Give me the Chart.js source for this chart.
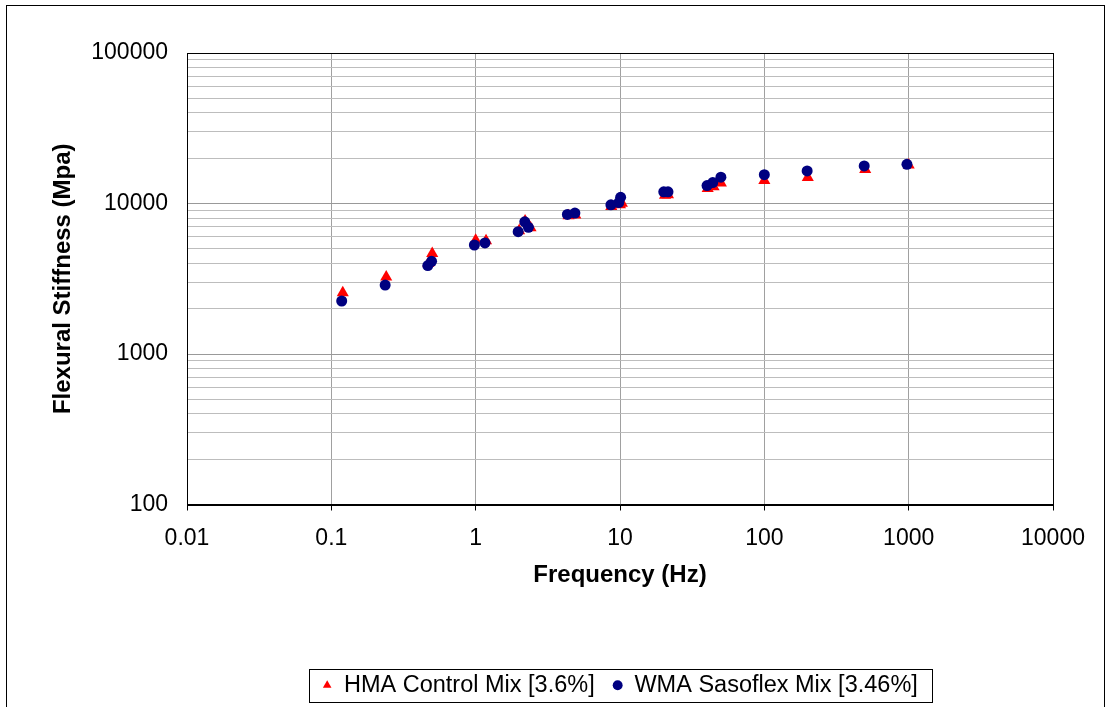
<!DOCTYPE html>
<html>
<head>
<meta charset="utf-8">
<script src="https://cdn.jsdelivr.net/npm/chart.js@4"></script>
<style>
  html, body { margin: 0; padding: 0; background: #fff; }
  canvas { display: block; }
</style>
</head>
<body>
<canvas id="stiffnessChart" width="1109" height="707"></canvas>
<script>
// values
const hmaLabel = 'HMA Control Mix [3.6%]';
const hmaFreq = [0.12, 0.24, 0.47, 0.5, 1.0, 1.18, 2.0, 2.2, 2.4, 4.4, 4.9, 8.7, 10, 10.3, 20.5, 21.5, 40.5, 44.5, 50, 100, 200, 500, 1000];
const hmaStiffness = [2550, 3250, 4000, 4650, 5700, 5650, 6600, 7650, 6900, 8300, 8400, 9550, 9800, 10050, 11350, 11450, 12600, 12900, 13700, 14200, 14900, 16800, 18000];

const wmaLabel = 'WMA Sasoflex Mix [3.46%]';
const wmaFreq = [0.118, 0.236, 0.466, 0.495, 0.98, 1.16, 1.97, 2.19, 2.32, 4.32, 4.87, 8.65, 9.8, 10.1, 20.1, 21.5, 40.1, 43.9, 50, 100, 198, 492, 973];
const wmaStiffness = [2250, 2870, 3870, 4130, 5300, 5470, 6500, 7550, 6950, 8460, 8640, 9800, 10150, 11000, 11950, 11950, 13150, 13770, 14950, 15550, 16450, 17760, 18210];

const xTicks = [0.01, 0.1, 1, 10, 100, 1000, 10000];
const yDecades = [100, 1000, 10000, 100000];

const FONT = "'Liberation Sans', Arial, sans-serif";

function toPoints(xs, ys) {
    return xs.map((x, i) => ({ x: x, y: ys[i] }));
}

function isDecade(v) {
    const l = Math.log10(v);
    return Math.abs(l - Math.round(l)) < 1e-9;
}

// outer frame, plot box and legend box
const framePlugin = {
    id: 'frame',
    beforeDraw(chart) {
        const ctx = chart.ctx;
        ctx.save();
        ctx.fillStyle = '#fff';
        ctx.fillRect(0, 0, chart.width, chart.height);
        ctx.restore();
    },
    afterDraw(chart) {
        const ctx = chart.ctx;
        const a = chart.chartArea;
        ctx.save();
        ctx.strokeStyle = '#000';
        ctx.lineWidth = 1;
        ctx.strokeRect(6.5, 5.5, 1098, 730);
        ctx.strokeRect(Math.round(a.left) + 0.5, Math.round(a.top) + 0.5,
            Math.round(a.right - a.left), Math.round(a.bottom - a.top));
        const boxes = chart.legend.legendHitBoxes;
        if (boxes && boxes.length) {
            const first = boxes[0];
            const last = boxes[boxes.length - 1];
            const left = Math.round(first.left) - 13;
            const right = Math.round(last.left + last.width) + 14;
            const cy = first.top + first.height / 2;
            ctx.strokeRect(left + 0.5, Math.round(cy - 16) + 0.5, right - left, 33);
        }
        ctx.restore();
    }
};

const ctx = document.getElementById('stiffnessChart').getContext('2d');
const stiffnessChart = new Chart(ctx, {
    type: 'scatter',
    data: {
        datasets: [{
            label: hmaLabel,
            data: toPoints(hmaFreq, hmaStiffness),
            pointStyle: 'triangle',
            pointRadius: 7,
            backgroundColor: '#ff0000',
            borderColor: '#ff0000',
            borderWidth: 0,
            order: 1
        }, {
            label: wmaLabel,
            data: toPoints(wmaFreq, wmaStiffness),
            pointStyle: 'circle',
            pointRadius: 5.5,
            backgroundColor: '#000080',
            borderColor: '#000080',
            borderWidth: 0,
            order: 0
        }]
    },
    options: {
        responsive: false,
        animation: false,
        layout: {
            padding: { top: 53, right: 56, bottom: 0, left: 0 }
        },
        plugins: {
            tooltip: { enabled: false },
            legend: {
                position: 'bottom',
                fullSize: false,
                labels: {
                    usePointStyle: true,
                    boxWidth: 10,
                    boxHeight: 7,
                    padding: 18,
                    color: '#000',
                    font: { family: FONT, size: 23.5 },
                    sort: (a, b) => a.datasetIndex - b.datasetIndex
                }
            }
        },
        scales: {
            x: {
                type: 'logarithmic',
                min: 0.01,
                max: 10000,
                afterBuildTicks: (scale) => {
                    scale.ticks = xTicks.map(v => ({ value: v }));
                },
                afterFit: (scale) => {
                    scale.height = 151;
                },
                ticks: {
                    autoSkip: false,
                    maxRotation: 0,
                    padding: 14,
                    color: '#000',
                    font: { family: FONT, size: 23 },
                    callback: (v) => String(v)
                },
                grid: {
                    color: '#a0a0a0',
                    tickColor: '#000',
                    tickLength: 6
                },
                border: { color: '#000' },
                title: {
                    display: true,
                    text: 'Frequency (Hz)',
                    color: '#000',
                    font: { family: FONT, size: 24, weight: 'bold' },
                    padding: { top: 0, bottom: 66 }
                }
            },
            y: {
                type: 'logarithmic',
                min: 100,
                max: 100000,
                afterBuildTicks: (scale) => {
                    const list = [];
                    yDecades.forEach(d => {
                        for (let k = 1; k <= 9; k++) {
                            if (d * k <= 100000) list.push({ value: d * k });
                        }
                    });
                    scale.ticks = list;
                },
                afterFit: (scale) => {
                    scale.width = 187;
                },
                ticks: {
                    autoSkip: false,
                    padding: 19,
                    color: '#000',
                    font: { family: FONT, size: 23 },
                    callback: (v) => isDecade(v) ? String(v) : ''
                },
                grid: {
                    drawTicks: false,
                    color: (c) => (c.tick && isDecade(c.tick.value)) ? '#999999' : '#bdbdbd'
                },
                border: { color: '#000' },
                title: {
                    display: true,
                    text: 'Flexural Stiffness (Mpa)',
                    color: '#000',
                    font: { family: FONT, size: 24, weight: 'bold' },
                    padding: { top: 49, bottom: 0 }
                }
            }
        }
    },
    plugins: [framePlugin]
});
</script>
</body>
</html>
